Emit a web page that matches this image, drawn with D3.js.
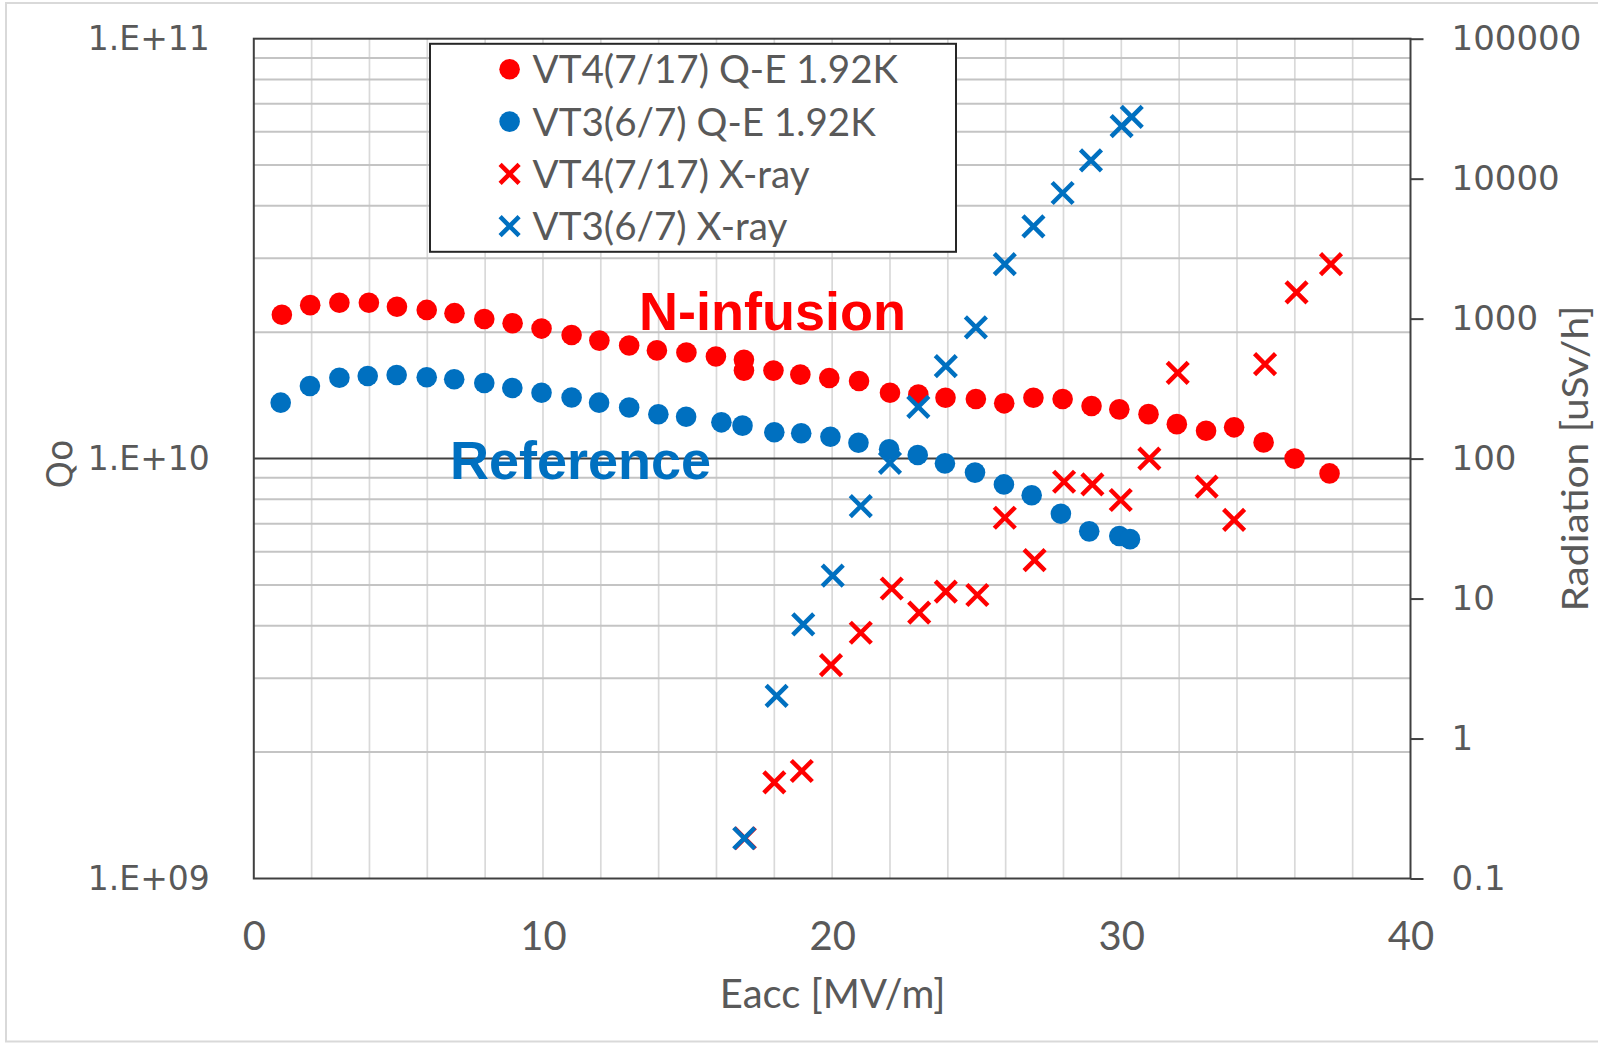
<!DOCTYPE html>
<html>
<head>
<meta charset="utf-8">
<script src="https://cdn.jsdelivr.net/npm/d3@7"></script>
<style>
  html, body { margin: 0; padding: 0; background: #fff; }
  svg { display: block; }
  .tick-lbl { font: 33px "DejaVu Sans", sans-serif; fill: #595959; }
  .x-lbl    { font: 40px Lato, sans-serif; fill: #595959; }
  .title    { font: 40px Lato, sans-serif; fill: #595959; }
  .legend-label { font: 38.6px Lato, sans-serif; fill: #595959; }
  .note     { font: bold 54px "Liberation Sans", Arial, sans-serif; }
</style>
</head>
<body>
<div id="chart"></div>
<script>
  // --- data: Eacc [MV/m] vs Qo, and X-ray [uSv/h] ---
  const eVT4 = [0.97, 1.95, 2.96, 3.98, 4.95, 5.98, 6.94, 7.97, 8.95, 9.95,
                10.99, 11.95, 12.98, 13.94, 14.96, 15.98, 16.95, 16.95, 17.97, 18.9,
                19.9, 20.93, 22.0, 22.98, 23.92, 24.97, 25.95, 26.96, 27.97, 28.97,
                29.93, 30.94, 31.92, 32.93, 33.9, 34.92, 35.99, 37.2];
  const qVT4 = [2.20e10, 2.32e10, 2.35e10, 2.35e10, 2.30e10, 2.26e10, 2.22e10, 2.15e10, 2.10e10, 2.04e10,
                1.97e10, 1.91e10, 1.86e10, 1.81e10, 1.79e10, 1.75e10, 1.72e10, 1.62e10, 1.62e10, 1.585e10,
                1.556e10, 1.53e10, 1.435e10, 1.42e10, 1.396e10, 1.386e10, 1.354e10, 1.396e10, 1.386e10, 1.334e10,
                1.31e10, 1.276e10, 1.208e10, 1.165e10, 1.187e10, 1.093e10, 1.0e10, 9.22e9];

  const eVT3 = [0.93, 1.94, 2.96, 3.94, 4.94, 5.98, 6.93, 7.97, 8.94, 9.95,
                10.99, 11.94, 12.98, 13.99, 14.95, 16.17, 16.9, 18.0, 18.93, 19.94,
                20.91, 21.97, 22.96, 23.9, 24.94, 25.94, 26.9, 27.91, 28.89, 29.93, 30.3];
  const qVT3 = [1.359e10, 1.489e10, 1.558e10, 1.573e10, 1.582e10, 1.562e10, 1.545e10, 1.514e10, 1.473e10, 1.435e10,
                1.398e10, 1.359e10, 1.323e10, 1.275e10, 1.258e10, 1.22e10, 1.198e10, 1.155e10, 1.149e10, 1.127e10,
                1.091e10, 1.053e10, 1.02e10, 9.74e9, 9.26e9, 8.68e9, 8.18e9, 7.39e9, 6.71e9, 6.54e9, 6.43e9];

  const exVT4 = [16.98, 18.0, 18.95, 19.96, 20.99, 22.06, 23.01, 23.93, 25.02, 25.97,
                 27.0, 28.02, 29.0, 29.98, 30.97, 31.95, 32.95, 33.9, 34.97, 36.06, 37.25];
  const rVT4  = [0.194, 0.486, 0.586, 3.35, 5.7, 11.8, 7.93, 11.2, 10.6, 37.8,
                 18.8, 68.3, 65.4, 50.6, 100, 410, 63, 36.5, 473, 1540, 2450];

  const exVT3 = [16.96, 18.08, 19.0, 20.02, 20.99, 22.0, 22.98, 23.93, 24.97, 25.97,
                 26.96, 27.97, 28.95, 30.01, 30.36];
  const rVT3  = [0.194, 2.02, 6.55, 14.6, 45.8, 93.3, 234, 458, 865, 2450,
                 4560, 7900, 13500, 23700, 27600];

  const xTicks = [0, 10, 20, 30, 40];
  const qTicks = [1e9, 1e10, 1e11];
  const rTicks = [0.1, 1, 10, 100, 1000, 10000, 100000];
  const legendLabels = ["VT4(7/17) Q-E 1.92K", "VT3(6/7) Q-E 1.92K", "VT4(7/17) X-ray", "VT3(6/7) X-ray"];

  const RED = "#ff0000", BLUE = "#0070c0";

  // --- layout ---
  const W = 1598, H = 1045;
  const L = 253.8, R = 1410.5, T = 38.7, B = 878.5;

  const svg = d3.select("#chart").append("svg")
    .attr("width", W).attr("height", H);

  // chart area border
  svg.append("rect")
    .attr("x", 6).attr("y", 3).attr("width", W).attr("height", 1038.5)
    .attr("fill", "#fff").attr("stroke", "#d9d9d9").attr("stroke-width", 2);

  const x  = d3.scaleLinear([0, 40], [L, R]);
  const yQ = d3.scaleLog([1e9, 1e11], [B, T]);
  const yR = d3.scaleLog([0.1, 1e5], [B, T]);

  // vertical gridlines every 2 MV/m
  svg.append("g")
    .selectAll("line")
    .data(d3.range(2, 40, 2))
    .join("line")
      .attr("x1", d => x(d)).attr("x2", d => x(d))
      .attr("y1", T).attr("y2", B)
      .attr("stroke", "#d9d9d9").attr("stroke-width", 1.7);

  // horizontal log gridlines (minor) on the Qo axis
  svg.append("g")
    .selectAll("line")
    .data(yQ.ticks().filter(d => !qTicks.includes(d)))
    .join("line")
      .attr("x1", L).attr("x2", R)
      .attr("y1", d => yQ(d)).attr("y2", d => yQ(d))
      .attr("stroke", "#c4c4c4").attr("stroke-width", 2);

  // major gridline at 1.E+10
  svg.append("line")
    .attr("x1", L).attr("x2", R)
    .attr("y1", yQ(1e10)).attr("y2", yQ(1e10))
    .attr("stroke", "#404040").attr("stroke-width", 2);

  // plot frame
  svg.append("rect")
    .attr("x", L).attr("y", T).attr("width", R - L).attr("height", B - T)
    .attr("fill", "none").attr("stroke", "#404040").attr("stroke-width", 2);

  // left axis
  const fmtQ = d => "1.E+" + String(Math.round(Math.log10(d))).padStart(2, "0");
  const gL = svg.append("g")
    .attr("transform", `translate(${L},0)`)
    .call(d3.axisLeft(yQ).tickValues(qTicks).tickFormat(fmtQ).tickSize(0).tickPadding(44));
  gL.select(".domain").remove();
  gL.selectAll("text").attr("class", "tick-lbl").attr("fill", null).attr("font-size", null).attr("font-family", null);

  // right axis
  const gR = svg.append("g")
    .attr("transform", `translate(${R},0)`)
    .call(d3.axisRight(yR).tickValues(rTicks).tickFormat(d => String(d)).tickSize(13).tickPadding(28));
  gR.select(".domain").remove();
  gR.selectAll("line").attr("stroke", "#404040").attr("stroke-width", 2);
  gR.selectAll("text").attr("class", "tick-lbl").attr("fill", null).attr("font-size", null).attr("font-family", null)
    .style("font-size", "34px");

  // bottom axis
  const gB = svg.append("g")
    .attr("transform", `translate(0,${B})`)
    .call(d3.axisBottom(x).tickValues(xTicks).tickSize(0).tickPadding(43));
  gB.select(".domain").remove();
  gB.selectAll("text").attr("class", "x-lbl").attr("fill", null).attr("font-size", null).attr("font-family", null);

  // axis titles
  svg.append("text")
    .attr("class", "tick-lbl")
    .attr("transform", "translate(72,464) rotate(-90)")
    .attr("text-anchor", "middle")
    .style("font-size", "35px")
    .text("Qo");

  svg.append("text")
    .attr("class", "title")
    .attr("x", 832.6).attr("y", 1008)
    .attr("text-anchor", "middle")
    .text("Eacc [MV/m]");

  svg.append("text")
    .attr("class", "title")
    .attr("transform", "translate(1588,458.6) rotate(-90)")
    .attr("text-anchor", "middle")
    .attr("textLength", 306).attr("lengthAdjust", "spacingAndGlyphs")
    .style("font-size", "37px")
    .text("Radiation [uSv/h]");

  // markers
  const circles = (ex, q, color) => svg.append("g")
    .selectAll("circle")
    .data(d3.zip(ex, q))
    .join("circle")
      .attr("cx", d => x(d[0])).attr("cy", d => yQ(d[1]))
      .attr("r", 10.3).attr("fill", color);

  const crossPath = s => `M${-s},${-s}L${s},${s}M${-s},${s}L${s},${-s}`;
  const crosses = (ex, r, color) => svg.append("g")
    .selectAll("path")
    .data(d3.zip(ex, r))
    .join("path")
      .attr("transform", d => `translate(${x(d[0])},${yR(d[1])})`)
      .attr("d", crossPath(10.5))
      .attr("fill", "none").attr("stroke", color).attr("stroke-width", 4.5);

  circles(eVT4, qVT4, RED);
  circles(eVT3, qVT3, BLUE);
  crosses(exVT4, rVT4, RED);
  crosses(exVT3, rVT3, BLUE);

  // annotations
  svg.append("text").attr("class", "note").attr("fill", RED)
    .attr("x", 639).attr("y", 329.5).text("N-infusion");
  svg.append("text").attr("class", "note").attr("fill", BLUE)
    .attr("x", 450).attr("y", 478.5).text("Reference");

  // legend
  const lg = svg.append("g");
  lg.append("rect")
    .attr("x", 430).attr("y", 43.8).attr("width", 526).attr("height", 208)
    .attr("fill", "#fff").attr("stroke", "#262626").attr("stroke-width", 2);

  const items = [
    { label: legendLabels[0], color: RED,  kind: "dot" },
    { label: legendLabels[1], color: BLUE, kind: "dot" },
    { label: legendLabels[2], color: RED,  kind: "x" },
    { label: legendLabels[3], color: BLUE, kind: "x" }
  ];
  const row = lg.selectAll("g.item")
    .data(items)
    .join("g")
      .attr("class", "item")
      .attr("transform", (_, i) => `translate(509.6,${69.3 + i * 52.3})`);
  row.filter(d => d.kind === "dot").append("circle")
    .attr("r", 10.3).attr("fill", d => d.color);
  row.filter(d => d.kind === "x").append("path")
    .attr("d", crossPath(9.5))
    .attr("fill", "none").attr("stroke", d => d.color).attr("stroke-width", 4.5);
  row.append("text")
    .attr("class", "legend-label")
    .attr("x", 23).attr("y", 14)
    .text(d => d.label);
</script>
</body>
</html>
